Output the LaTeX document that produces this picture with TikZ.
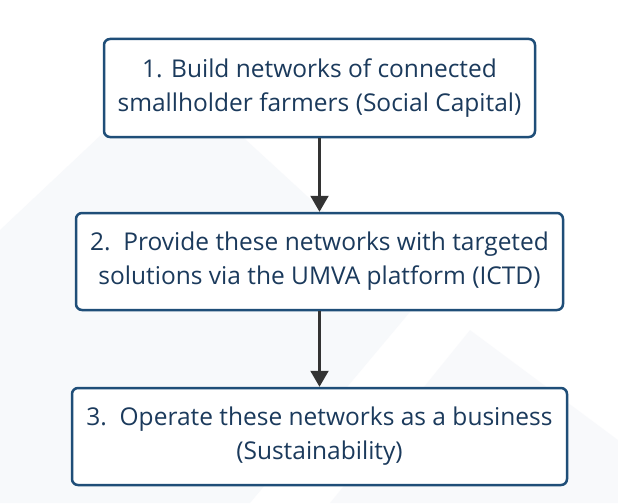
\documentclass[tikz,border=0pt]{standalone}
\usepackage{fontspec}
\setmainfont{Open Sans}
\usetikzlibrary{arrows.meta}
\definecolor{boxline}{HTML}{1F4E78}
\definecolor{boxtext}{HTML}{1B3A5C}
\definecolor{arrowcol}{HTML}{333333}
\definecolor{bgshape}{HTML}{F3F5F9}
\tikzset{
  stepbox/.style={draw=boxline, line width=2.5pt, rounded corners=6pt, fill=white,
    text=boxtext, align=center, font=\fontsize{24.5}{34}\selectfont, inner sep=0pt},
  flow/.style={draw=arrowcol, line width=2.2pt, -{Triangle[width=18pt,length=16pt]}}
}
\begin{document}
\begin{tikzpicture}[x=1pt,y=-1pt]
\useasboundingbox (0,0) rectangle (618,503);
\fill[white] (0,0) rectangle (618,503);
% faint background shapes
\fill[bgshape, opacity=0.6] (0,230) -- (170,70) -- (420,300) -- (250,503) -- (0,503) -- cycle;
\fill[bgshape, opacity=0.5] (330,503) -- (470,330) -- (618,440) -- (618,503) -- cycle;
\node[stepbox, minimum width=431pt, minimum height=98pt] (b1) at (319.5,88)
  {1. Build networks of connected\\smallholder farmers (Social Capital)};
\node[stepbox, minimum width=487pt, minimum height=97pt] (b2) at (319.5,261.5)
  {2.\ \ Provide these networks with targeted\\solutions via the UMVA platform (ICTD)};
\node[stepbox, minimum width=495pt, minimum height=97pt] (b3) at (319.5,436.5)
  {3.\ \ Operate these networks as a business\\(Sustainability)};
\draw[flow] (b1.south) -- (b2.north);
\draw[flow] (b2.south) -- (b3.north);
\end{tikzpicture}
\end{document}
